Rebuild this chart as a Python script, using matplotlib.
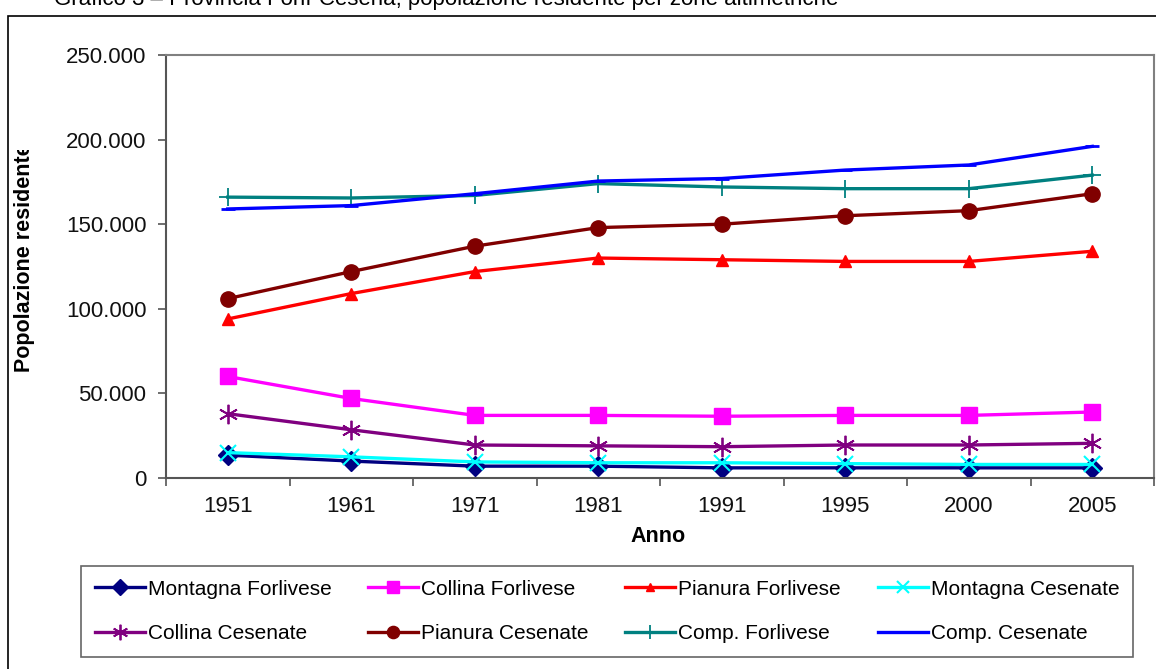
import matplotlib
matplotlib.use("Agg")
import matplotlib.pyplot as plt
from matplotlib.patches import Rectangle
from matplotlib.ticker import FuncFormatter, FixedLocator
from matplotlib.transforms import Bbox, TransformedBbox

plt.rcParams["font.family"] = ["Liberation Sans", "DejaVu Sans"]

# Dati: popolazione residente per zone altimetriche
anni = ["1951", "1961", "1971", "1981", "1991", "1995", "2000", "2005"]
montagna_forlivese = [13500, 10000, 7000, 7000, 6000, 6000, 6000, 6000]
collina_forlivese = [60000, 47000, 37000, 37000, 36500, 37000, 37000, 39000]
pianura_forlivese = [94000, 109000, 122000, 130000, 129000, 128000, 128000, 134000]
montagna_cesenate = [15000, 12500, 9500, 9000, 9000, 8500, 8000, 8000]
collina_cesenate = [38000, 28500, 19500, 19000, 18500, 19500, 19500, 20500]
pianura_cesenate = [106000, 122000, 137000, 148000, 150000, 155000, 158000, 168000]
comp_forlivese = [166000, 165500, 167000, 174000, 172000, 171000, 171000, 179000]
comp_cesenate = [159000, 161000, 168000, 175500, 177000, 182000, 185000, 196000]

serie = [
    ("Montagna Forlivese", montagna_forlivese, "#000080", "D", 10, 1),
    ("Collina Forlivese", collina_forlivese, "#FF00FF", "s", 11, 1),
    ("Pianura Forlivese", pianura_forlivese, "#FF0000", "^", 8, 1),
    ("Montagna Cesenate", montagna_cesenate, "#00FFFF", "x", 11, 1.5),
    ("Collina Cesenate", collina_cesenate, "#800080", (6, 2, 0), 14, 1.3),
    ("Pianura Cesenate", pianura_cesenate, "#800000", "o", 11, 1),
    ("Comp. Forlivese", comp_forlivese, "#008080", "+", 13, 1.3),
    ("Comp. Cesenate", comp_cesenate, "#0000FF", "_", 10, 2),
]

fig = plt.figure(figsize=(11.56, 6.69), dpi=100)
W, H = 1156, 669
ax = fig.add_axes([166 / W, 1 - 478 / H, 988 / W, 423 / H])

x = list(range(len(anni)))
linee = []
for nome, valori, col, mk, ms, mew in serie:
    l, = ax.plot(x, valori, color=col, lw=2.4, marker=mk, markersize=ms,
                 markeredgewidth=mew, markeredgecolor=col, markerfacecolor=col,
                 label=nome, clip_on=False)
    linee.append(l)

ax.set_ylim(0, 250000)
ax.set_xlim(-0.5, len(anni) - 0.5)
ax.set_yticks(range(0, 250001, 50000))
ax.yaxis.set_major_formatter(FuncFormatter(lambda v, p: f"{int(v):,}".replace(",", ".")))
ax.tick_params(axis="y", direction="out", length=6, width=1.2, color="#555555",
               labelsize=16, pad=8, labelcolor="#111111")

# tacche tra le categorie, etichette al centro
ax.xaxis.set_major_locator(FixedLocator([i - 0.5 for i in range(len(anni) + 1)]))
ax.xaxis.set_minor_locator(FixedLocator(x))
ax.set_xticklabels([])
ax.set_xticklabels(anni, minor=True)
ax.tick_params(axis="x", which="major", direction="out", length=6, width=1.2, color="#555555")
ax.tick_params(axis="x", which="minor", length=0, labelsize=16, pad=13, labelcolor="#111111")

for s in ["left", "bottom"]:
    ax.spines[s].set_color("#555555")
    ax.spines[s].set_linewidth(1.5)
for s in ["top", "right"]:
    ax.spines[s].set_color("#808080")
    ax.spines[s].set_linewidth(1.5)

fig.text(658 / W, 1 - 536 / H, "Anno", ha="center", va="center",
         fontsize=15.5, fontweight="bold")
yl = fig.text(25 / W, 1 - 258 / H, "Popolazione residente", rotation=90,
              ha="center", va="center", fontsize=15.5, fontweight="bold")
yl.set_clip_box(TransformedBbox(Bbox([[0, 0], [1, 1 - 150 / H]]), fig.transFigure))
yl.set_clip_on(True)

# titolo tagliato in alto
fig.text(838 / W, 1 - 5 / H, "Grafico 3 – Provincia Forlì-Cesena, popolazione residente per zone altimetriche",
         ha="right", va="baseline", fontsize=16)

# cornice esterna
fig.patches.append(Rectangle((8 / W, -0.2), 1.2, 1.2 - 16 / H,
                             transform=fig.transFigure, fill=False,
                             edgecolor="black", lw=1.2))

# legenda riga per riga (4 colonne)
ordine = [0, 4, 1, 5, 2, 6, 3, 7]
leg = fig.legend([linee[i] for i in ordine], [serie[i][0] for i in ordine],
                 loc="lower left",
                 bbox_to_anchor=(81 / W, 1 - 657 / H, (1133 - 81) / W, 90 / H),
                 ncol=4, mode="expand", frameon=True, fancybox=False,
                 prop={"size": 15},
                 handlelength=2.4, handletextpad=0.15, borderpad=0.65,
                 labelspacing=1.24, columnspacing=0.3, borderaxespad=0)
leg.get_frame().set_edgecolor("#404040")
leg.get_frame().set_linewidth(1.2)
for h in leg.legend_handles:
    h.set_markersize(h.get_markersize() * 0.8)

fig.savefig("out.png", dpi=100)
